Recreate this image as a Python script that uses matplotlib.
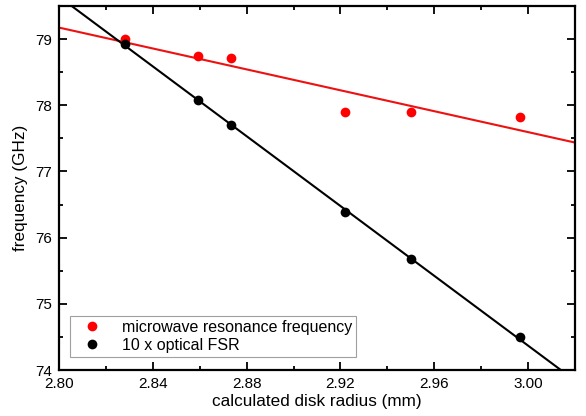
import numpy as np
import matplotlib
matplotlib.use("Agg")
import matplotlib.pyplot as plt
from matplotlib.ticker import MultipleLocator, FormatStrFormatter

plt.rcParams['font.family'] = ['Liberation Sans', 'DejaVu Sans']

radius = [2.8281, 2.8593, 2.8733, 2.9220, 2.9500, 2.9965]
microwave = [79.00, 78.74, 78.71, 77.905, 77.90, 77.82]
fsr10 = [78.93, 78.076, 77.70, 76.39, 75.67, 74.495]

fig = plt.figure(figsize=(5.86, 4.16), dpi=100)
ax = fig.add_axes([59/586, 1-370/416, (575-59)/586, (370-6)/416])

xl = (2.80, 3.02)
xx = np.array(xl)
pr = np.polyfit(radius, microwave, 1)
pb = np.polyfit(radius, fsr10, 1)
ax.plot(xx, np.polyval(pr, xx), color='#ee1111', lw=1.5, zorder=2)
ax.plot(xx, np.polyval(pb, xx), color='black', lw=1.5, zorder=2)
ax.plot(radius, microwave, 'o', color='#ff0000', ms=7, mec='none',
        label='microwave resonance frequency', zorder=3)
ax.plot(radius, fsr10, 'o', color='black', ms=7, mec='none',
        label='10 x optical FSR', zorder=3)

ax.set_xlim(*xl)
ax.set_ylim(74, 79.5)
ax.xaxis.set_major_locator(MultipleLocator(0.04))
ax.xaxis.set_minor_locator(MultipleLocator(0.02))
ax.xaxis.set_major_formatter(FormatStrFormatter('%.2f'))
ax.yaxis.set_major_locator(MultipleLocator(1))
ax.yaxis.set_minor_locator(MultipleLocator(0.5))
ax.tick_params(which='both', direction='in', top=True, right=True,
               labeltop=False, labelright=False, labelsize=11, width=1.3)
ax.tick_params(which='major', length=6, pad=5)
ax.tick_params(which='minor', length=3)
for s in ax.spines.values():
    s.set_linewidth(1.6)

ax.set_xlabel('calculated disk radius (mm)', fontsize=12.3, labelpad=2)
ax.set_ylabel('frequency (GHz)', fontsize=12.3, labelpad=5)

leg = ax.legend(loc='lower left', bbox_to_anchor=(11/516, 13/364),
                borderaxespad=0, fontsize=11.5,
                frameon=True, fancybox=False, edgecolor='#888888',
                handletextpad=0.8, borderpad=0.25, labelspacing=0.2,
                handlelength=2.2)
leg.get_frame().set_linewidth(0.8)

fig.savefig('out.png', dpi=100)
